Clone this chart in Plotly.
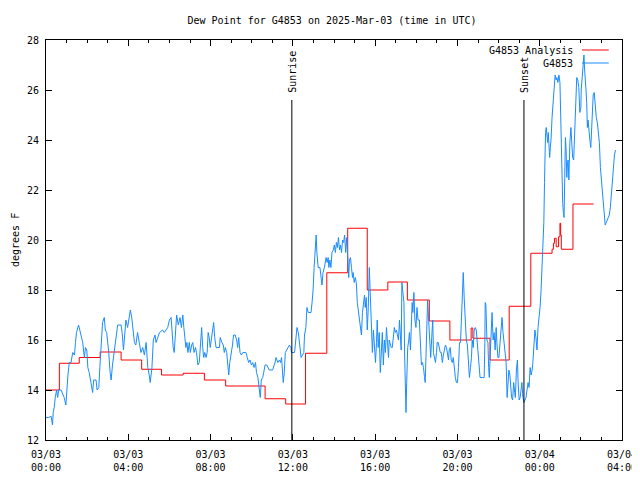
import plotly.graph_objects as go

TITLE = "Dew Point for G4853 on 2025-Mar-03 (time in UTC)"
Y_LABEL = "degrees F"

# x positions are minutes since 2025-03-03 00:00 UTC
X_TICK_MIN = [0, 240, 480, 720, 960, 1200, 1440, 1680]
X_TICK_TEXT = ["03/03<br>00:00", "03/03<br>04:00", "03/03<br>08:00", "03/03<br>12:00",
               "03/03<br>16:00", "03/03<br>20:00", "03/04<br>00:00", "03/04<br>04:00"]
X_MINOR_MIN = list(range(0, 1681, 60))
Y_TICKS = [12, 14, 16, 18, 20, 22, 24, 26, 28]

SUN_NAMES = ["Sunrise", "Sunset"]
SUN_MIN = [717, 1394]
SUN_TOP = 25.6

SERIES_NAMES = ["G4853 Analysis", "G4853"]

RED_MIN = [0, 39, 97, 158, 219, 279, 337, 400, 462, 524, 639, 699, 757, 819, 880, 937, 997,
           1054, 1118, 1178, 1240, 1245, 1295, 1351, 1414, 1476, 1480, 1483, 1488, 1495, 1499,
           1501, 1503, 1537, 1597]
RED_DP = [14.0, 15.07, 15.3, 15.52, 15.2, 14.83, 14.6, 14.67, 14.4, 14.16, 13.65, 13.44, 15.47,
          18.69, 20.47, 18.0, 18.32, 17.6, 16.76, 16.0, 16.48, 16.07, 15.2, 17.35, 19.47, 19.63,
          19.87, 20.07, 19.73, 20.13, 20.67, 20.2, 19.63, 21.44, 21.44]

BLUE_MIN = [
    0, 8, 15, 19, 21, 24, 27, 31, 34, 37, 44, 53, 58, 61, 64, 68, 73, 78, 83, 86, 89, 95, 99, 102,
    107, 112, 115, 119, 122, 126, 131, 136, 139, 146, 149, 154, 157, 160, 165, 170, 173, 177, 180,
    183, 187, 190, 194, 199, 204, 209, 219, 222, 226, 229, 233, 238, 243, 246, 250, 253, 258, 262,
    267, 272, 277, 282, 287, 292, 297, 301, 304, 309, 313, 318, 321, 326, 331, 340, 345, 355, 360,
    365, 367, 371, 374, 377, 381, 386, 391, 395, 399, 402,
    408, 411, 414, 418, 421, 425, 428, 432, 436, 439, 443, 447, 451, 454, 457, 460, 463, 467, 470,
    473, 476, 479, 482, 486, 489, 492, 496, 506, 508, 513, 517, 520, 523, 527, 530, 533, 536, 540,
    544, 547, 552, 556, 559, 562, 566, 570, 574, 577, 583, 587, 591, 595, 599, 603, 607, 611, 614,
    618, 622, 625, 628, 632, 635, 639, 644, 647, 651, 661, 664, 668, 671, 676, 681, 684, 687, 690,
    692, 695, 698, 702, 706, 710, 714, 716, 725, 729, 732, 736, 739, 742, 744, 752, 754, 758, 761,
    765, 773, 776, 779, 782, 785, 788, 790, 794, 799, 802, 805, 808, 812,
    817, 820, 823, 825, 828, 831, 834, 838, 841, 844, 847, 850, 853, 856, 859, 862, 865, 868, 871,
    874, 877, 880, 883, 885, 888, 891, 894, 896, 899, 902, 905, 908, 911, 914, 917, 920, 923, 926,
    929, 931, 934, 937, 940, 943, 946, 949, 952, 955, 958, 961, 964, 966, 969, 972, 975, 978, 981,
    984, 987, 990, 993, 996, 999, 1001, 1004, 1007, 1010, 1013, 1016, 1019, 1022, 1025, 1028, 1031,
    1034, 1036, 1038, 1041, 1044, 1046, 1048, 1050, 1052, 1055, 1058, 1060, 1063, 1066, 1068, 1070,
    1073, 1076, 1079, 1082, 1085, 1089, 1092, 1095, 1098, 1101, 1104, 1106, 1108, 1110, 1113, 1116,
    1119, 1122, 1125, 1128, 1130, 1133, 1136, 1139, 1141, 1144, 1147, 1150, 1153, 1156, 1159, 1162,
    1165, 1168, 1171, 1174, 1176, 1179, 1182, 1185, 1188, 1191, 1194, 1197, 1200, 1203, 1206, 1209,
    1211, 1214, 1217, 1220, 1223, 1226, 1229, 1232, 1235, 1238, 1241, 1243, 1246, 1249, 1252, 1255,
    1258, 1261, 1264,
    1266, 1274, 1278, 1280, 1281, 1283, 1286, 1289, 1291, 1293, 1295, 1298, 1301, 1304, 1307, 1310,
    1313, 1315, 1318, 1321, 1324, 1327, 1330, 1333, 1336, 1339, 1342, 1345, 1348, 1350, 1353, 1355,
    1358, 1361, 1364, 1367, 1369, 1372, 1375, 1377, 1380, 1383, 1385, 1388, 1391, 1394, 1397, 1400,
    1403, 1406, 1409, 1412, 1415, 1418, 1420, 1423, 1426, 1429, 1432, 1435, 1438, 1441, 1444, 1447,
    1450, 1452, 1454, 1455, 1457, 1459, 1461, 1463, 1465, 1467, 1469, 1471, 1473, 1476, 1479, 1482,
    1485, 1488, 1490, 1493, 1496, 1499, 1501, 1503, 1505, 1507, 1509, 1511, 1513, 1515, 1517, 1519,
    1521, 1523, 1525, 1526, 1528, 1531, 1534, 1536, 1539, 1542, 1544, 1546, 1548, 1551, 1554, 1557,
    1560, 1561, 1563, 1565, 1567, 1569, 1571, 1573, 1575, 1577, 1579, 1581, 1583, 1585, 1587, 1589,
    1592, 1595, 1596, 1599, 1602, 1605, 1608, 1611, 1614, 1617, 1620, 1623, 1626, 1628, 1631, 1634,
    1637, 1640, 1643, 1646, 1649, 1652, 1655, 1658, 1661,
]
BLUE_DP = [
    12.9, 12.9, 12.95, 12.6, 13.1, 13.3, 13.7, 14.0, 13.7, 14.0, 14.0, 13.7, 13.4, 14.1, 14.6, 15.1,
    15.1, 15.5, 15.4, 15.9, 16.3, 16.6, 16.3, 16.2, 15.9, 15.3, 15.7, 15.6, 14.9, 14.7, 14.3, 13.9,
    14.4, 14.4, 14.0, 14.1, 14.9, 15.7, 16.7, 16.9, 16.4, 16.3, 16.0, 15.5, 14.7, 14.4, 15.0, 15.6,
    16.1, 16.6, 16.6, 16.3, 15.6, 16.0, 16.8, 16.5, 17.1, 17.2, 16.9, 16.4, 15.9, 15.8, 16.3, 15.9,
    15.5, 15.7, 15.4, 15.9, 14.9, 14.6, 14.3, 14.9, 16.0, 16.2, 15.9, 16.1, 16.3, 16.4, 16.3, 16.5,
    16.8, 16.9, 16.3, 15.7, 15.5, 16.1, 17.0, 16.6, 16.9, 16.5, 17.0, 16.5,
    15.7, 15.9, 15.5, 15.9, 15.5, 15.8, 15.9, 15.5, 15.7, 15.5, 15.0, 15.1, 15.9, 16.5, 15.7, 15.3,
    15.5, 15.3, 15.5, 16.3, 16.1, 15.7, 16.0, 16.4, 16.7, 16.1, 15.7, 15.7, 16.1, 15.9, 15.8, 15.5,
    15.7, 15.5, 15.0, 14.6, 15.1, 15.4, 15.8, 16.2, 16.2, 16.0, 15.7, 16.1, 15.5, 15.4, 15.5, 15.5,
    15.5, 15.3, 15.1, 15.2, 15.0, 15.1, 14.9, 15.1, 14.7, 14.5, 14.1, 13.7, 14.4, 14.5, 14.7, 15.0,
    15.0, 14.9, 14.8, 14.8, 14.9, 15.1, 15.3, 15.1, 15.2, 15.1, 15.3, 14.6, 14.3, 14.7, 15.5, 15.6,
    15.7, 15.8, 15.7, 15.5, 15.5, 16.0, 16.5, 16.3, 15.9, 15.5, 15.3, 15.5, 16.2, 16.5, 17.3, 17.1,
    17.1, 17.5, 18.0, 18.9, 19.7, 20.2, 19.5, 18.9, 18.9, 18.4, 18.2, 18.7, 18.9,
    19.3, 19.1, 19.3, 18.9, 19.2, 18.9, 19.5, 19.6, 19.8, 19.5, 19.9, 19.7, 20.1, 19.6, 19.8, 19.5,
    20.0, 19.9, 20.2, 19.5, 20.1, 19.3, 18.5, 19.2, 19.3, 18.9, 18.5, 18.7, 18.3, 18.5, 18.3, 17.5,
    17.2, 16.8, 16.5, 16.2, 17.1, 17.5, 17.8, 17.3, 17.7, 16.4, 17.3, 18.9, 17.7, 17.3, 15.5, 16.4,
    15.9, 15.1, 15.9, 16.8, 15.7, 16.3, 14.7, 15.8, 16.3, 15.0, 16.0, 15.5, 16.5, 15.9, 15.3, 16.0,
    15.8, 15.7, 15.7, 16.0, 16.5, 16.3, 16.4, 16.2, 16.0, 16.8, 16.1, 15.6, 18.3, 18.0, 17.5, 15.4,
    14.3, 13.1, 14.3, 15.7, 16.0, 16.3, 15.6, 16.4, 17.5, 17.1, 17.9, 16.8, 16.5, 17.3, 16.8, 16.8,
    15.5, 15.0, 15.1, 14.9, 14.5, 14.3, 15.2, 16.6, 17.6, 16.8, 16.2, 15.3, 16.1, 16.8, 15.5, 15.3,
    15.1, 15.5, 15.9, 15.9, 15.7, 15.5, 15.5, 15.1, 15.4, 15.7, 15.8, 15.7, 15.5, 15.2, 15.6, 15.7,
    15.2, 15.1, 15.3, 14.8, 14.5, 14.3, 14.3, 14.9, 15.9, 15.9, 16.5, 18.0, 18.7, 17.6, 16.8, 16.0,
    15.8, 15.3, 14.5, 14.9, 15.3, 16.0, 15.7, 16.4, 16.5, 16.4, 15.9, 15.4, 14.8,
    14.5, 14.5, 14.5, 15.9, 17.5, 17.4, 16.0, 15.9, 14.9, 14.5, 15.2, 16.5, 17.1, 16.0, 16.3, 15.6,
    16.5, 15.9, 15.3, 15.3, 15.9, 16.5, 16.9, 16.3, 15.9, 15.3, 15.1, 13.7, 14.3, 14.8, 14.6, 14.1,
    13.7, 13.6, 14.3, 13.9, 13.7, 14.8, 15.2, 14.3, 13.6, 13.7, 14.0, 14.3, 13.7, 13.5, 13.6, 13.7,
    14.0, 14.3, 14.1, 14.9, 14.6, 14.8, 15.1, 15.9, 16.4, 16.1, 15.6, 16.5, 16.9, 17.3, 18.0, 19.1,
    20.1, 20.7, 22.3, 23.6, 24.3, 24.5, 24.3, 23.9, 24.3, 23.6, 23.3, 23.7, 24.0, 24.9, 25.6, 26.3,
    26.6, 26.4, 26.5, 26.3, 26.6, 26.3, 24.9, 23.6, 22.3, 21.5, 21.1, 20.9, 22.5, 24.1, 23.6, 22.5,
    23.1, 23.2, 22.4, 23.2, 23.9, 24.5, 23.7, 23.3, 23.2, 24.3, 25.5, 26.0, 26.5, 26.4, 26.1, 25.1,
    25.3, 26.0, 26.3, 26.8, 27.2, 27.4, 26.8, 26.5, 26.0, 25.5, 24.5, 24.8, 24.4, 24.0, 23.9, 23.7,
    24.5, 25.5, 25.8, 25.9, 25.3, 24.9, 24.7, 24.3, 23.9, 22.9, 22.4, 21.9, 21.3, 20.9, 20.6, 20.7,
    20.8, 20.9, 21.0, 21.3, 21.9, 22.3, 22.9, 23.4, 23.6,
]

RED = "#ff0000"
BLUE = "#1a8cff"
FONT = "DejaVu Sans Mono"

fig = go.Figure()
fig.add_trace(go.Scatter(x=RED_MIN, y=RED_DP, mode="lines", name=SERIES_NAMES[0],
                         line=dict(color=RED, width=1, shape="hv")))
fig.add_trace(go.Scatter(x=BLUE_MIN, y=BLUE_DP, mode="lines", name=SERIES_NAMES[1],
                         line=dict(color=BLUE, width=1)))

shapes = []
annotations = []
for name, t in zip(SUN_NAMES, SUN_MIN):
    shapes.append(dict(type="line", xref="x", yref="y", x0=t, x1=t, y0=Y_TICKS[0], y1=SUN_TOP,
                       line=dict(color="black", width=1)))
    annotations.append(dict(text=name, x=t, y=SUN_TOP, xref="x", yref="y", textangle=-90,
                            showarrow=False, xanchor="center", yanchor="bottom", yshift=5,
                            font=dict(family=FONT, size=10, color="black")))

# gnuplot-style key (text right, sample line left)
for i, (name, col) in enumerate(zip(SERIES_NAMES, [RED, BLUE])):
    ypos = 0.975 - i * 0.0325
    annotations.append(dict(text=name, x=0.918, y=ypos, xref="paper", yref="paper",
                            xanchor="right", yanchor="middle", showarrow=False,
                            font=dict(family=FONT, size=10, color="black")))
    shapes.append(dict(type="line", xref="paper", yref="paper", x0=0.9306, x1=0.977,
                       y0=ypos, y1=ypos, line=dict(color=col, width=1)))

annotations.append(dict(text=Y_LABEL, x=-0.0538, y=0.5, xref="paper", yref="paper",
                        textangle=-90, showarrow=False, xanchor="center", yanchor="middle",
                        font=dict(family=FONT, size=10, color="black")))

# the page adds an 8 px body margin, so the figure is offset by 8 px
fig.update_layout(
    width=640, height=480,
    margin=dict(l=38, r=26, t=32, b=48, autoexpand=False),
    paper_bgcolor="white", plot_bgcolor="white",
    showlegend=False,
    font=dict(family=FONT, size=10, color="black"),
    title=dict(text=TITLE, x=324 / 640, xref="container", xanchor="center",
               y=1 - 12 / 480, yref="container", yanchor="middle", automargin=False,
               font=dict(family=FONT, size=10, color="black")),
    shapes=shapes,
    annotations=annotations,
    xaxis=dict(range=[0, 1680], tickmode="array", tickvals=X_TICK_MIN, ticktext=X_TICK_TEXT,
               ticks="inside", ticklen=6, tickcolor="black", showline=True, linecolor="black",
               linewidth=1, mirror="allticks", showgrid=False, zeroline=False,
               automargin=False, ticklabelstandoff=5,
               minor=dict(tickmode="array", tickvals=X_MINOR_MIN, ticks="inside", ticklen=3,
                          tickcolor="black", showgrid=False)),
    yaxis=dict(range=[12, 28], tickmode="array", tickvals=Y_TICKS, ticks="inside", ticklen=6,
               tickcolor="black", showline=True, linecolor="black", linewidth=1,
               mirror="allticks", showgrid=False, zeroline=False,
               automargin=False, ticklabelstandoff=4),
)

fig.write_html("out.html")
